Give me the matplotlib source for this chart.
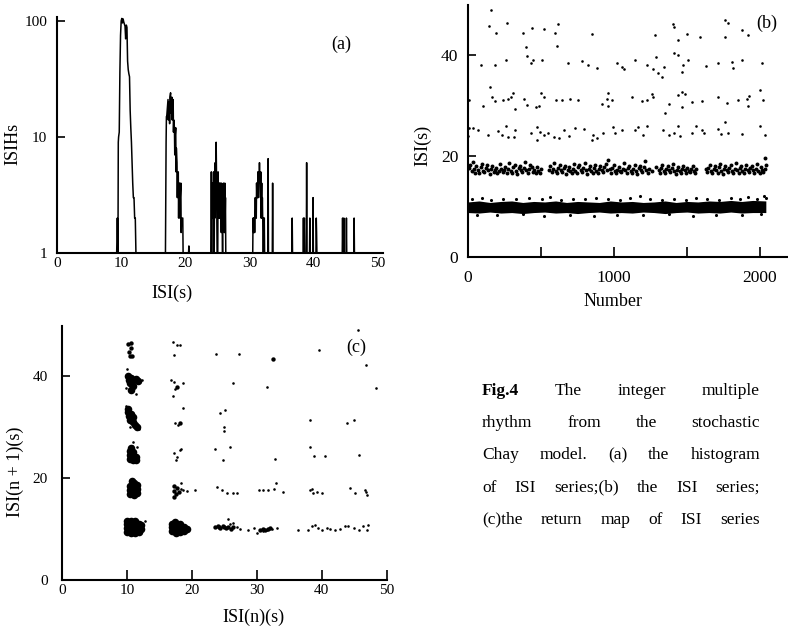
import matplotlib
matplotlib.use("Agg")
import matplotlib.pyplot as plt
from matplotlib.ticker import NullLocator

plt.rcParams['font.family'] = ['Liberation Serif', 'DejaVu Serif']

# ---------------- data ----------------
# (a) interspike interval histogram, drawn as a line: (ISI in s, count); 1 = empty bin
isih = [(0, 1), (9.3, 1), (9.4, 2), (9.5, 1), (9.55, 9), (9.6, 10), (9.7, 11), (9.8, 36),
        (9.9, 75), (10.0, 100), (10.1, 105), (10.2, 96), (10.3, 104), (10.4, 98),
        (10.5, 94), (10.6, 90), (10.7, 70), (10.8, 92), (10.9, 88), (11.0, 45),
        (11.1, 38), (11.2, 35), (11.3, 33), (11.4, 17), (11.5, 12), (11.6, 9),
        (11.7, 6), (11.8, 4), (11.9, 3), (12.0, 3), (12.1, 2), (12.2, 2), (12.3, 1),
        (16.9, 1), (17.0, 9), (17.05, 15), (17.1, 15), (17.2, 18), (17.3, 21),
        (17.35, 14), (17.4, 17), (17.5, 20), (17.55, 13), (17.6, 22), (17.7, 24),
        (17.75, 16), (17.8, 19), (17.9, 22), (17.95, 14), (18.0, 17), (18.1, 21),
        (18.15, 11), (18.2, 14), (18.3, 12), (18.35, 7), (18.4, 10), (18.5, 12),
        (18.55, 5), (18.6, 8), (18.7, 6), (18.75, 3), (18.8, 5), (18.9, 5),
        (18.95, 2), (19.0, 4), (19.1, 4), (19.15, 2), (19.2, 3), (19.3, 4),
        (19.35, 1.5), (19.4, 2), (19.5, 2), (19.6, 2), (19.65, 1), (20.5, 1),
        (20.55, 1.15), (20.6, 1),
        (24.0, 1), (24.05, 5), (24.1, 1), (24.15, 4), (24.2, 2), (24.25, 4), (24.3, 2),
        (24.35, 3), (24.4, 5), (24.45, 2), (24.5, 1), (24.55, 4), (24.6, 2), (24.65, 6),
        (24.7, 3), (24.75, 7), (24.8, 9), (24.85, 5), (24.9, 2), (24.95, 1), (25.05, 1),
        (25.1, 5), (25.15, 2), (25.2, 4), (25.25, 2), (25.3, 3), (25.35, 4), (25.4, 2),
        (25.45, 4), (25.5, 2), (25.55, 3), (25.6, 1.5), (25.65, 4), (25.7, 2),
        (25.75, 2), (25.8, 1), (25.85, 3), (25.9, 2), (25.95, 4), (26.0, 2), (26.05, 3),
        (26.1, 1.5), (26.15, 4), (26.2, 2), (26.25, 3), (26.3, 1),
        (30.5, 1), (30.55, 2), (30.6, 2), (30.65, 1.5), (30.7, 2), (30.75, 2), (30.8, 1.5),
        (30.85, 2), (30.9, 3), (30.95, 2), (31.0, 3), (31.05, 2), (31.1, 4), (31.15, 3),
        (31.2, 4), (31.25, 3), (31.3, 5), (31.35, 3), (31.4, 4), (31.45, 5), (31.5, 4),
        (31.55, 6), (31.6, 4), (31.65, 5), (31.7, 3), (31.75, 5), (31.8, 2), (31.85, 3),
        (31.9, 4), (31.95, 2), (32.0, 3), (32.05, 2), (32.1, 2), (32.15, 1), (32.2, 2),
        (32.25, 1), (32.3, 2), (32.35, 1), (32.85, 1), (32.9, 6.5), (32.95, 1),
        (33.55, 1), (33.6, 4), (33.65, 1),
        (36.6, 1), (36.65, 2), (36.7, 1), (38.35, 1), (38.4, 2), (38.45, 1), (38.55, 2),
        (38.6, 1), (38.85, 1), (38.9, 6), (38.95, 1), (39.35, 1), (39.4, 2), (39.45, 1),
        (39.85, 1), (39.9, 3), (39.95, 1), (40.35, 1), (40.4, 2), (40.45, 1.5), (40.5, 1),
        (44.45, 1), (44.5, 2), (44.55, 1), (44.65, 1), (44.7, 2), (44.75, 1), (45.05, 1),
        (45.1, 2), (45.15, 1), (46.25, 1), (46.3, 2), (46.35, 1), (50.8, 1)]

# (b) ISI series: dense band near 10 s given by its edges
band1_n = [0, 75, 150, 225, 300, 375, 450, 525, 600, 675, 750, 825, 900, 975, 1050,
           1125, 1200, 1275, 1350, 1425, 1500, 1575, 1650, 1725, 1800, 1875, 1950, 2040]
band1_hi = [10.9, 11.1, 10.8, 11.0, 11.1, 10.8, 11.0, 10.9, 11.1, 10.8, 11.0, 10.9,
            10.8, 11.1, 10.9, 11.0, 10.8, 10.9, 11.1, 10.8, 11.0, 10.9, 11.1, 11.0,
            11.2, 11.0, 11.2, 11.1]
band1_lo = [8.8, 8.7, 8.9, 8.7, 8.8, 8.6, 8.8, 8.9, 8.7, 8.8, 8.6, 8.8, 8.9, 8.7,
            8.8, 8.7, 8.9, 8.8, 8.6, 8.8, 8.9, 8.7, 8.8, 8.7, 8.9, 8.7, 8.8, 8.8]
band1_fringe = [(30, 11.4), (95, 11.6), (160, 11.3), (240, 11.5), (330, 11.4), (420, 11.7),
                (505, 11.4), (560, 11.8), (640, 11.3), (720, 11.5), (800, 11.4), (880, 11.6),
                (960, 11.4), (1040, 11.3), (1110, 11.7), (1180, 12.1), (1250, 11.4),
                (1330, 11.3), (1410, 11.5), (1490, 11.3), (1560, 11.6), (1640, 11.4),
                (1720, 11.3), (1800, 11.7), (1860, 11.5), (1920, 11.8), (1980, 11.4),
                (2030, 12.0), (2040, 11.6), (60, 8.4), (200, 8.3), (380, 8.5), (520, 8.2),
                (700, 8.4), (860, 8.1), (1020, 8.4), (1200, 8.3), (1380, 8.5), (1540, 8.2),
                (1700, 8.4), (1880, 8.3), (2010, 8.5)]

band2 = [(5, 17.6), (14, 18.3), (24, 17.0), (33, 18.9), (41, 17.4), (50, 16.7), (58, 18.0), (67, 17.3),
         (77, 16.6), (86, 17.8), (95, 18.5), (103, 17.1), (112, 16.9), (121, 17.6), (130, 18.2), (139, 17.2),
         (148, 16.5), (157, 17.5), (166, 18.0), (175, 16.9), (184, 17.3), (193, 17.7), (202, 16.6), (211, 17.1),
         (220, 18.4), (229, 17.4), (238, 16.8), (247, 17.2), (256, 17.9), (265, 16.6), (274, 17.5), (283, 18.6),
         (292, 17.0), (301, 16.7), (310, 17.8), (319, 18.3), (328, 17.1), (337, 16.5), (346, 17.6), (355, 18.0),
         (364, 17.3), (373, 16.8), (382, 17.7), (391, 18.8), (400, 17.2), (409, 16.6), (418, 17.4), (427, 18.2),
         (436, 17.9), (445, 16.9), (454, 17.3), (463, 16.6), (472, 17.8), (481, 17.1), (490, 16.7), (498, 17.4),
         (556, 17.2), (565, 18.1), (574, 16.8), (583, 17.5), (592, 18.6), (601, 17.0), (610, 16.6), (619, 17.7),
         (628, 18.3), (637, 17.2), (646, 16.9), (655, 17.6), (664, 18.0), (673, 16.5), (682, 17.3), (691, 17.9),
         (700, 17.1), (709, 16.7), (718, 17.5), (727, 18.4), (736, 17.0), (745, 16.6), (754, 17.8), (763, 18.2),
         (772, 17.3), (781, 16.8), (790, 17.6), (799, 18.7), (808, 17.2), (817, 16.5), (826, 17.4), (835, 18.1),
         (844, 17.0), (853, 16.7), (862, 17.7), (871, 18.3), (880, 17.1), (889, 16.6), (898, 17.5), (907, 18.0),
         (916, 17.3), (925, 16.9), (934, 17.8), (943, 18.5), (952, 17.2), (961, 19.3), (970, 17.4), (979, 16.7),
         (988, 17.6), (997, 18.2), (1006, 17.0), (1015, 16.6), (1024, 17.3), (1033, 17.9), (1042, 17.1), (1051, 16.8),
         (1060, 17.5), (1069, 18.6), (1078, 17.2), (1087, 16.6), (1096, 17.7), (1105, 18.1), (1114, 17.0), (1123, 16.7),
         (1132, 17.4), (1141, 18.3), (1150, 17.1), (1159, 16.5), (1168, 17.6), (1177, 18.0), (1186, 17.3), (1195, 16.8),
         (1204, 17.8), (1213, 19.1), (1222, 17.2), (1231, 16.6), (1240, 17.5), (1262, 17.0), (1285, 17.8),
         (1305, 17.3), (1314, 16.7), (1323, 17.6), (1332, 18.2), (1341, 17.1), (1350, 16.6), (1359, 17.4), (1368, 18.0),
         (1377, 17.2), (1386, 16.8), (1395, 17.7), (1404, 18.4), (1413, 17.0), (1422, 16.5), (1431, 17.3), (1440, 17.9),
         (1449, 17.1), (1458, 16.7), (1467, 17.5), (1476, 18.1), (1485, 17.2), (1494, 16.6), (1503, 17.6), (1512, 17.0),
         (1521, 16.8), (1530, 17.4), (1539, 18.0), (1548, 17.1), (1557, 16.7), (1565, 17.5),
         (1628, 17.4), (1637, 16.8), (1646, 17.7), (1655, 18.3), (1664, 17.1), (1673, 16.6), (1682, 17.5), (1691, 18.0),
         (1700, 17.2), (1709, 16.7), (1718, 17.8), (1727, 18.5), (1736, 17.0), (1745, 16.5), (1754, 17.4), (1763, 18.1),
         (1772, 17.3), (1781, 16.8), (1790, 17.6), (1799, 18.2), (1808, 17.1), (1817, 16.6), (1826, 17.5), (1835, 18.7),
         (1844, 17.2), (1853, 16.7), (1862, 17.7), (1871, 18.0), (1880, 17.0), (1889, 16.6), (1898, 17.4), (1907, 18.3),
         (1916, 17.2), (1925, 16.8), (1934, 17.6), (1943, 18.1), (1952, 17.3), (1961, 16.7), (1970, 17.5), (1979, 18.4),
         (1988, 17.1), (1997, 16.6), (2006, 17.8), (2015, 17.3), (2024, 16.9), (2031, 19.6), (2036, 17.5), (2040, 18.2)]

# sparse higher multiples (about 25, 31, 38, 45 s)
b_sparse = [(144, 45.7), (158, 48.9), (192, 44.4), (269, 46.3), (379, 44.3), (441, 45.4),
            (523, 45.1), (596, 44.3), (614, 46.1), (610, 41.8), (397, 41.6), (402, 39.8),
            (430, 38.4), (443, 39.1), (509, 39.0), (847, 44.2), (1281, 44.0), (1406, 46.1),
            (1411, 45.5), (1441, 43.0), (1498, 44.1), (1589, 43.6), (1760, 46.9), (1783, 46.3),
            (1760, 43.5), (1879, 45.0), (1916, 44.0),
            (89, 38.0), (185, 38.0), (258, 39.0), (687, 38.5), (783, 38.8), (820, 38.0),
            (886, 37.5), (1021, 38.4), (1053, 37.7), (1071, 37.3), (1144, 39.0), (1224, 38.0),
            (1270, 37.2), (1286, 39.7), (1299, 36.4), (1327, 35.7), (1345, 37.7), (1413, 40.3),
            (1441, 40.0), (1470, 38.0), (1464, 36.7), (1505, 39.1), (1630, 37.8), (1710, 38.5),
            (1806, 38.7), (1817, 37.4), (1875, 39.0), (2012, 38.5),
            (4, 31.0), (105, 29.9), (151, 33.6), (162, 31.7), (185, 30.8), (242, 31.1),
            (276, 31.2), (295, 31.6), (310, 32.5), (322, 29.4), (386, 31.2), (402, 30.1),
            (464, 29.8), (486, 29.9), (500, 32.4), (523, 31.6), (601, 31.1), (646, 31.1),
            (699, 31.3), (756, 31.1), (916, 30.3), (950, 31.2), (961, 32.4), (957, 29.9),
            (984, 31.1), (1121, 31.7), (1190, 30.8), (1224, 31.1), (1258, 32.2), (1270, 31.7),
            (1349, 28.5), (1377, 30.3), (1436, 32.1), (1464, 32.7), (1486, 32.2), (1464, 29.8),
            (1532, 30.6), (1600, 30.8), (1714, 31.7), (1772, 30.4), (1852, 31.0), (1909, 31.2),
            (1916, 29.9), (1925, 31.9), (1999, 33.1), (2023, 31.0),
            (6, 25.5), (3, 24.0), (34, 25.5), (66, 25.1), (135, 24.2), (208, 25.0), (231, 24.2),
            (258, 25.9), (272, 23.8), (317, 23.8), (322, 25.1), (432, 24.5), (470, 25.7),
            (470, 23.2), (493, 24.8), (523, 24.2), (546, 24.5), (591, 23.8), (623, 23.5),
            (660, 25.1), (692, 24.0), (733, 25.5), (797, 25.3), (847, 23.2), (858, 24.2),
            (882, 23.5), (927, 24.6), (995, 25.7), (1007, 24.6), (1053, 25.1), (1144, 25.1),
            (1167, 25.7), (1197, 24.2), (1224, 25.9), (1338, 25.1), (1377, 24.2), (1413, 24.6),
            (1441, 25.9), (1452, 24.0), (1532, 24.5), (1560, 25.9), (1605, 25.1), (1619, 24.5),
            (1714, 25.3), (1733, 24.4), (1760, 26.8), (1783, 24.5), (1875, 24.4), (1999, 25.9),
            (2034, 24.2)]

# (c) return map ISI(n) vs ISI(n+1): dense clusters, medium and single points
c_dense = [(10.0, 9.3), (10.0, 10.1), (10.0, 10.9), (10.0, 11.5), (10.6, 9.1), (10.6, 9.9),
           (10.6, 10.7), (10.6, 11.5), (11.2, 9.2), (11.2, 10.0), (11.2, 10.8), (11.2, 11.5),
           (11.8, 9.4), (11.8, 10.2), (11.8, 11.0), (12.2, 9.9), (12.2, 10.7),
           (10.5, 16.8), (10.5, 17.6), (10.5, 18.4), (11.1, 16.6), (11.1, 17.4), (11.1, 18.2),
           (11.1, 19.0), (11.6, 17.0), (11.6, 17.8), (11.6, 18.6), (10.8, 19.3),
           (10.4, 23.6), (10.4, 24.4), (10.4, 25.2), (11.0, 23.5), (11.0, 24.3), (11.0, 25.1),
           (11.4, 24.0), (11.4, 23.4), (10.7, 25.8),
           (10.1, 32.8), (10.3, 32.0), (10.5, 31.4), (10.9, 31.0), (11.2, 30.4), (11.5, 30.0),
           (10.6, 32.5), (11.0, 31.8), (10.2, 33.4),
           (10.2, 40.0), (10.6, 39.6), (11.0, 39.2), (11.4, 39.3), (10.5, 38.6), (10.9, 38.0),
           (10.6, 37.2), (11.7, 39.0), (10.3, 39.2),
           (17.0, 9.5), (17.0, 10.3), (17.0, 11.0), (17.6, 9.2), (17.6, 10.0), (17.6, 10.8),
           (18.2, 9.3), (18.2, 10.1), (18.2, 10.9), (18.8, 9.6), (18.8, 10.4), (19.3, 10.0),
           (17.4, 11.3)]
c_medium = [(10.2, 46.2), (10.7, 46.3), (10.6, 45.4), (10.3, 44.6), (10.4, 43.9), (10.8, 43.8),
            (17.2, 18.3), (17.2, 17.5), (17.5, 16.8), (17.7, 18.0), (18.0, 17.3), (17.3, 16.3),
            (23.6, 10.3), (24.0, 10.6), (24.4, 10.1), (24.8, 10.5), (25.2, 10.2), (25.6, 10.4),
            (26.0, 10.0), (26.4, 10.3), (24.2, 10.4), (25.0, 10.3),
            (30.5, 9.8), (30.9, 10.0), (31.3, 9.7), (31.7, 9.9), (32.0, 10.1),
            (32.5, 43.3), (17.7, 37.7), (18.2, 30.8)]
c_single = [(12.75, 11.6), (10.9, 27.0), (10.8, 26.3), (11.6, 26.0), (9.9, 34.0), (11.8, 29.6),
            (10.4, 29.9), (12.3, 39.2), (10.0, 41.2), (11.4, 36.4), (9.9, 37.5),
            (18.3, 17.8), (18.6, 17.6), (19.2, 17.5), (20.5, 17.6), (18.4, 19.0),
            (17.3, 24.8), (17.7, 24.1), (18.2, 25.4), (18.4, 25.7), (17.6, 23.5),
            (17.4, 30.7), (17.9, 30.3), (18.6, 33.6),
            (16.75, 39.1), (17.2, 38.8), (18.6, 38.6), (17.4, 37.3), (17.05, 36.0),
            (17.05, 46.6), (17.7, 45.9), (18.1, 45.9), (17.3, 44.0),
            (25.6, 11.9), (26.4, 11.2), (27.0, 10.3), (27.4, 10.0), (25.9, 11.0),
            (23.8, 18.1), (24.6, 17.6), (25.4, 17.1), (26.4, 17.0), (27.0, 17.1),
            (23.5, 25.6), (24.8, 23.5), (25.9, 26.1),
            (24.3, 32.6), (25.1, 33.3), (25.0, 30.0), (25.0, 29.2), (26.4, 38.5),
            (23.7, 44.2), (27.2, 44.3),
            (28.7, 9.8), (29.5, 10.2), (30.0, 9.2), (31.0, 9.6), (31.5, 9.8), (32.3, 10.0),
            (33.1, 10.2), (30.3, 17.6), (31.0, 17.6), (31.8, 17.6), (32.6, 17.8), (33.0, 19.0),
            (34.1, 17.3), (32.8, 23.6), (31.5, 37.7),
            (36.4, 9.7), (37.9, 9.8), (38.5, 10.5), (39.0, 10.8), (39.5, 10.2), (40.0, 9.8),
            (40.8, 10.2), (41.3, 10.0), (38.2, 17.6), (38.7, 17.1), (39.2, 17.3), (40.0, 17.0),
            (38.5, 17.9), (38.2, 26.1), (38.8, 24.3), (40.5, 24.3), (38.2, 31.3), (39.6, 45.0),
            (42.1, 9.8), (42.8, 10.0), (43.6, 10.6), (44.1, 10.5), (44.9, 10.2), (45.7, 9.8),
            (46.4, 10.5), (46.9, 9.8), (47.2, 10.8), (44.4, 18.0), (45.1, 17.1), (46.7, 17.6),
            (46.9, 16.6), (46.8, 17.3), (45.7, 24.5), (43.9, 30.7), (44.9, 31.3), (48.4, 37.5),
            (46.8, 42.1), (45.6, 48.9)]

caption_lines = [["Fig.4", "The", "integer", "multiple"],
                 ["rhythm", "from", "the", "stochastic"],
                 ["Chay", "model.", "(a)", "the", "histogram"],
                 ["of", "ISI", "series;(b)", "the", "ISI", "series;"],
                 ["(c)the", "return", "map", "of", "ISI", "series"]]

# ---------------- figure ----------------
W, H = 788, 636
fig = plt.figure(figsize=(W / 100, H / 100), dpi=100)


def add_px_axes(left, top, right, bottom):
    return fig.add_axes([left / W, 1 - bottom / H, (right - left) / W, (bottom - top) / H])


def style(ax, lab):
    for s in ["top", "right"]:
        ax.spines[s].set_visible(False)
    for s in ["left", "bottom"]:
        ax.spines[s].set_linewidth(1.5)
    ax.tick_params(direction="in", width=1.2, labelsize=lab)


# (a) histogram
ax1 = add_px_axes(57, 17, 383, 253)
ax1.plot([p[0] for p in isih], [p[1] for p in isih], color="black", lw=1.1)
ax1.set_yscale("log")
ax1.set_xlim(0, 50.8)
ax1.set_ylim(1, 108)
ax1.set_xticks([0, 10, 20, 30, 40, 50])
ax1.set_yticks([1, 10, 100], ["1", "10", "100"])
ax1.yaxis.set_minor_locator(NullLocator())
style(ax1, 11)
ax1.tick_params(axis="x", length=0, pad=3)
ax1.tick_params(axis="y", length=6, pad=7)

# (b) ISI series
ax2 = add_px_axes(468, 5, 787, 257)
ax2.fill_between(band1_n, band1_lo, band1_hi, color="black", linewidth=0)
ax2.scatter([p[0] for p in band1_fringe], [p[1] for p in band1_fringe], s=5, c="black", linewidths=0)
ax2.scatter([p[0] for p in band2], [p[1] for p in band2], s=8, c="black", linewidths=0)
ax2.scatter([p[0] for p in b_sparse], [p[1] for p in b_sparse], s=3.5, c="black", linewidths=0)
ax2.set_xlim(0, 2185)
ax2.set_ylim(0, 49.9)
ax2.set_xticks([0, 500, 1000, 1500, 2000], ["0", "", "1000", "", "2000"])
ax2.set_yticks([0, 20, 40])
style(ax2, 12.5)
ax2.tick_params(axis="x", length=7, pad=9)
ax2.tick_params(axis="y", length=6, pad=7)

# (c) return map
ax3 = add_px_axes(62, 326, 387, 580)
ax3.scatter([p[0] for p in c_dense], [p[1] for p in c_dense], s=30, c="black", linewidths=0)
ax3.scatter([p[0] for p in c_medium], [p[1] for p in c_medium], s=10, c="black", linewidths=0)
ax3.scatter([p[0] for p in c_single], [p[1] for p in c_single], s=3.5, c="black", linewidths=0)
ax3.set_xlim(0, 50.05)
ax3.set_ylim(0, 49.7)
ax3.set_xticks([0, 10, 20, 30, 40, 50])
ax3.set_yticks([0, 20, 40])
style(ax3, 11)
ax3.tick_params(axis="x", length=7, pad=3)
ax3.tick_params(axis="y", length=6, pad=10)


# axis labels and panel tags
def ftext(x, y, s, **kw):
    return fig.text(x / W, 1 - y / H, s, ha="center", va="center", **kw)


ftext(13, 144, "ISIHs", fontsize=13, rotation=90)
ftext(172, 293, "ISI(s)", fontsize=13)
ftext(341, 44, "(a)", fontsize=13)
ftext(423, 145, "ISI(s)", fontsize=13, rotation=90)
ftext(613, 302, "Number", fontsize=13)
ftext(767, 23, "(b)", fontsize=13)
ftext(15, 472, "ISI(n + 1)(s)", fontsize=13, rotation=90)
ftext(253, 617, "ISI(n)(s)", fontsize=13)
ftext(356, 347, "(c)", fontsize=13)

# justified caption
x0, x1 = 482, 760
fig.canvas.draw()
renderer = fig.canvas.get_renderer()
for i, words in enumerate(caption_lines):
    y = 391 + i * 32.2
    texts = []
    for j, w in enumerate(words):
        bold = (i == 0 and j == 0)
        texts.append(fig.text(0, 1 - y / H, w, fontsize=12.5, va="center", ha="left",
                              fontweight="bold" if bold else "normal"))
    widths = [t.get_window_extent(renderer).width for t in texts]
    gap = (x1 - x0 - sum(widths)) / (len(words) - 1)
    x = x0
    for t, wd in zip(texts, widths):
        t.set_x(x / W)
        x += wd + gap

fig.savefig("out.png", dpi=100)
